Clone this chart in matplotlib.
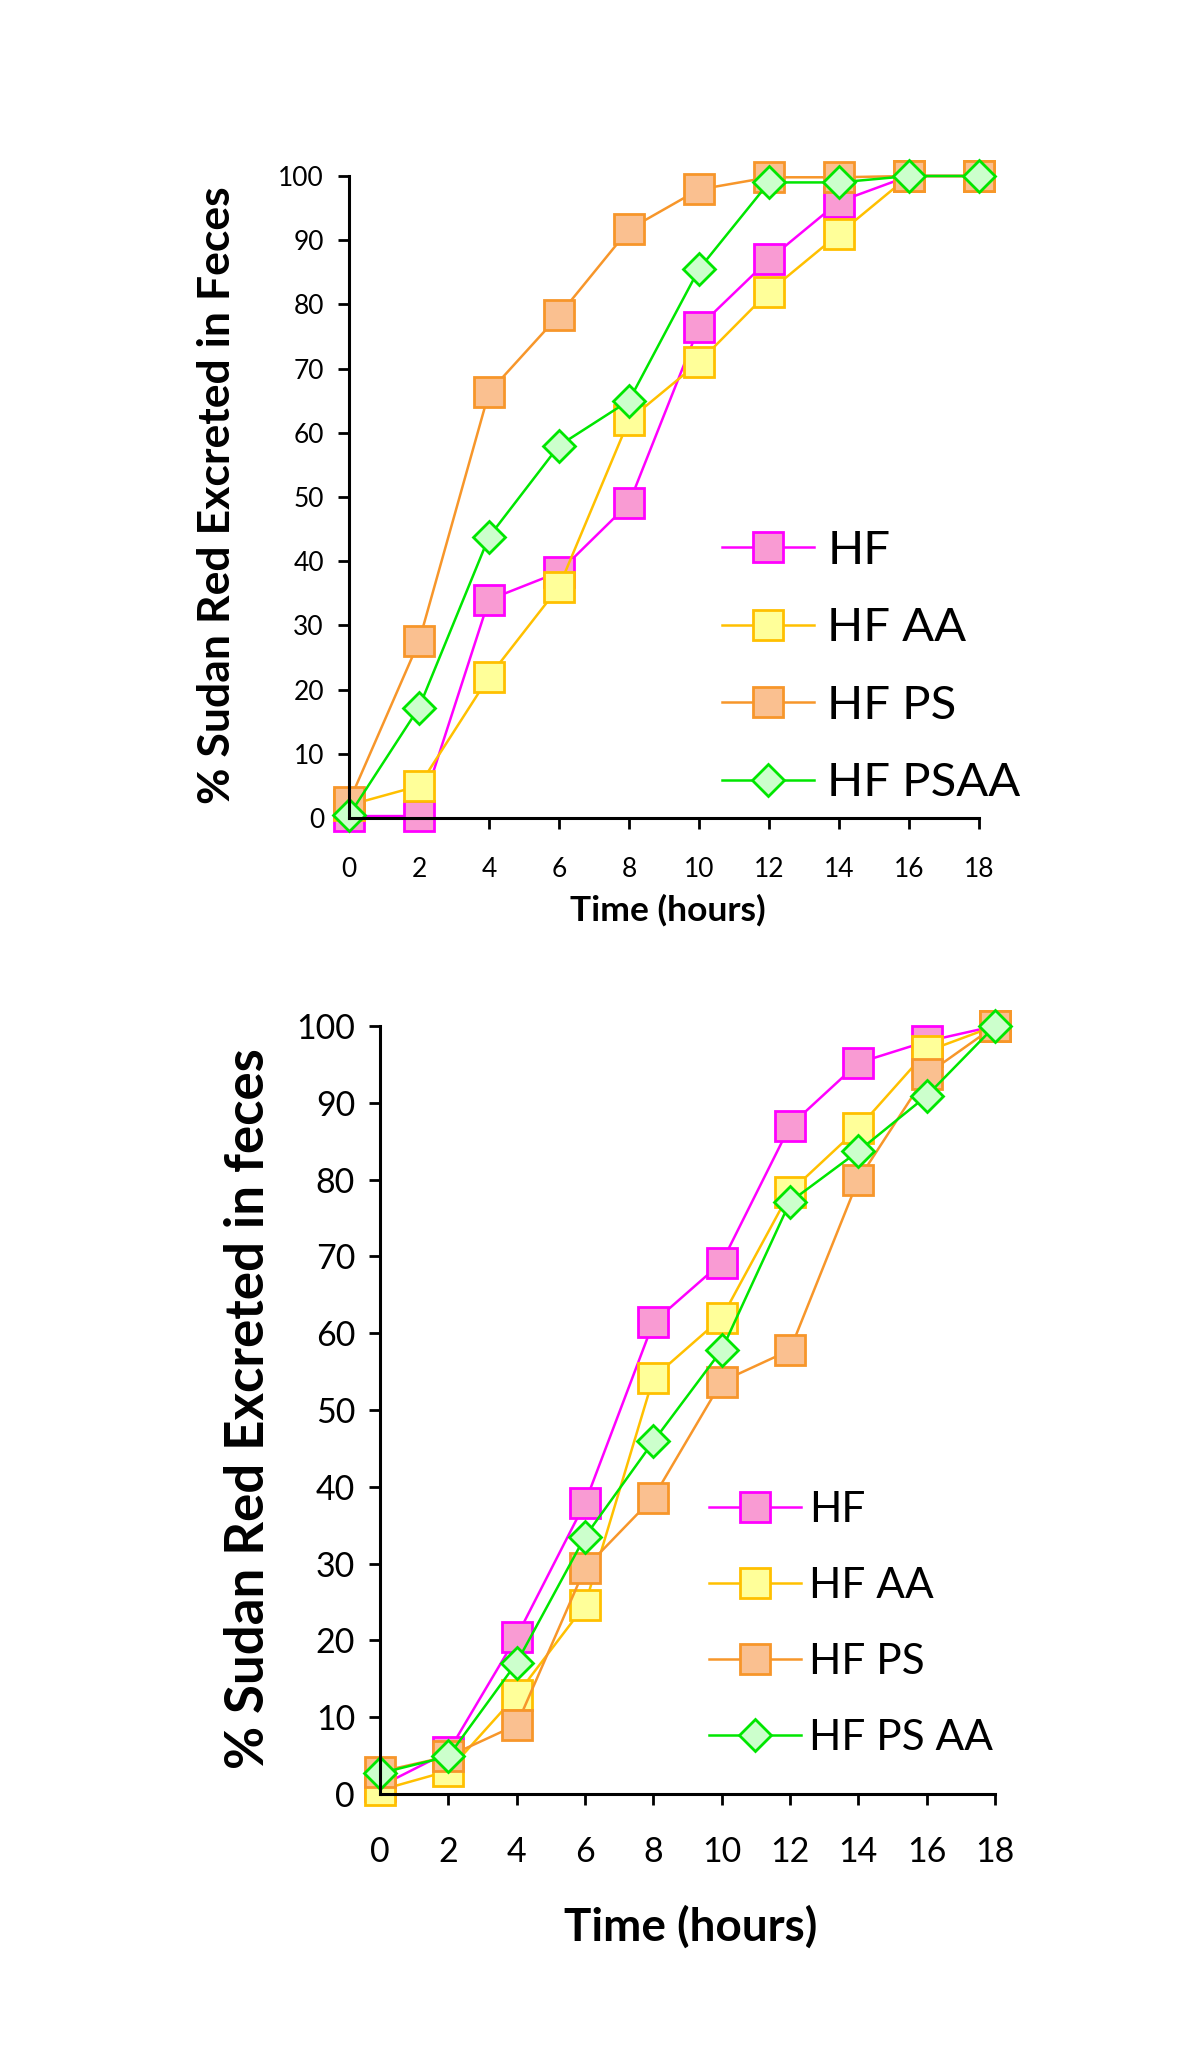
import matplotlib
matplotlib.use('Agg')
import matplotlib.pyplot as plt

# data
hours = [0, 2, 4, 6, 8, 10, 12, 14, 16, 18]

top_hf = [0.3, 0.3, 34, 38.3, 49, 76.5, 87, 96, 100, 100]
top_hf_aa = [2, 5, 22, 36, 62, 71, 82, 91, 100, 100]
top_hf_ps = [2.5, 27.5, 66.3, 78.3, 91.7, 97.9, 99.8, 99.8, 100, 100]
top_hf_psaa = [0.4, 17.2, 43.8, 58, 65, 85.5, 99, 99, 100, 100]
top_labels = ['HF', 'HF AA', 'HF PS', 'HF PSAA']

bot_hf = [1, 5.5, 20.5, 37.9, 61.4, 69.2, 87, 95.2, 98, 100]
bot_hf_aa = [0.5, 3, 12.9, 24.6, 54.2, 62, 78.4, 86.7, 96.7, 100]
bot_hf_ps = [2.9, 4.9, 9, 29.4, 38.6, 53.7, 57.8, 80, 93.7, 100]
bot_hf_psaa = [2.7, 4.9, 17.1, 33.5, 45.9, 57.8, 77.1, 83.7, 90.9, 100]
bot_labels = ['HF', 'HF AA', 'HF PS', 'HF PS AA']

yticks = list(range(0, 101, 10))

# (line colour, marker face, marker edge, marker)
styles = [
    ('#FF00FF', '#F99BD3', '#FF00FF', 's'),
    ('#FFC000', '#FFFF99', '#FFC000', 's'),
    ('#F7962A', '#FAC090', '#F7962A', 's'),
    ('#00E600', '#CCFFCC', '#00E600', 'D'),
]

FONT = 'Lato'
W, H = 1200, 2065

fig = plt.figure(figsize=(W / 100, H / 100), dpi=100)


def px(x, y):
    # pixel position (from top-left) -> figure fraction
    return x / W, 1 - y / H


def draw(ax, series, labels, tick_fs, leg_fs, leg_opts, leg_anchor):
    for vals, lab, (lc, fc, ec, mk) in zip(series, labels, styles):
        ax.plot(hours, vals, color=lc, lw=1.8, marker=mk,
                markersize=21 if mk == 's' else 16.5,
                markerfacecolor=fc, markeredgecolor=ec, markeredgewidth=2,
                clip_on=False, label=lab)
    ax.set_xlim(0, 18)
    ax.set_ylim(0, 100)
    ax.set_xticks(hours)
    ax.set_yticks(yticks)
    for s in ['top', 'right']:
        ax.spines[s].set_visible(False)
    for s in ['left', 'bottom']:
        ax.spines[s].set_linewidth(2.2)
    ax.tick_params(axis='y', direction='out', length=8, width=2, pad=10)
    ax.tick_params(axis='x', direction='out', length=8, width=2, pad=20)
    for t in ax.get_xticklabels() + ax.get_yticklabels():
        t.set_fontfamily(FONT)
        t.set_fontsize(tick_fs)
    ax.legend(loc='center left', bbox_to_anchor=px(*leg_anchor),
              bbox_transform=fig.transFigure, frameon=False,
              prop={'family': FONT, 'size': leg_fs},
              borderpad=0, borderaxespad=0, **leg_opts)


l, t, r, b = 349, 176, 979, 818
ax1 = fig.add_axes([l / W, 1 - b / H, (r - l) / W, (b - t) / H])
draw(ax1, [top_hf, top_hf_aa, top_hf_ps, top_hf_psaa], top_labels, 19, 34,
     dict(handlelength=1.95, handletextpad=0.28, labelspacing=0.75),
     (722, 667))
fig.text(*px(668, 910), 'Time (hours)', ha='center', va='center',
         fontfamily=FONT, fontweight='bold', fontsize=25.5)
fig.text(*px(217, 495), '% Sudan Red Excreted in Feces', ha='center',
         va='center', rotation=90, fontfamily=FONT, fontweight='bold',
         fontsize=32)

l, t, r, b = 380, 1026, 995, 1794
ax2 = fig.add_axes([l / W, 1 - b / H, (r - l) / W, (b - t) / H])
draw(ax2, [bot_hf, bot_hf_aa, bot_hf_ps, bot_hf_psaa], bot_labels, 24.5, 30.5,
     dict(handlelength=2.16, handletextpad=0.2, labelspacing=0.9),
     (709, 1624))
ax2.tick_params(axis='x', pad=22)
fig.text(*px(691, 1927), 'Time (hours)', ha='center', va='center',
         fontfamily=FONT, fontweight='bold', fontsize=33)
fig.text(*px(248, 1409), '% Sudan Red Excreted in feces', ha='center',
         va='center', rotation=90, fontfamily=FONT, fontweight='bold',
         fontsize=38)

fig.savefig('out.png', dpi=100, facecolor='white')
